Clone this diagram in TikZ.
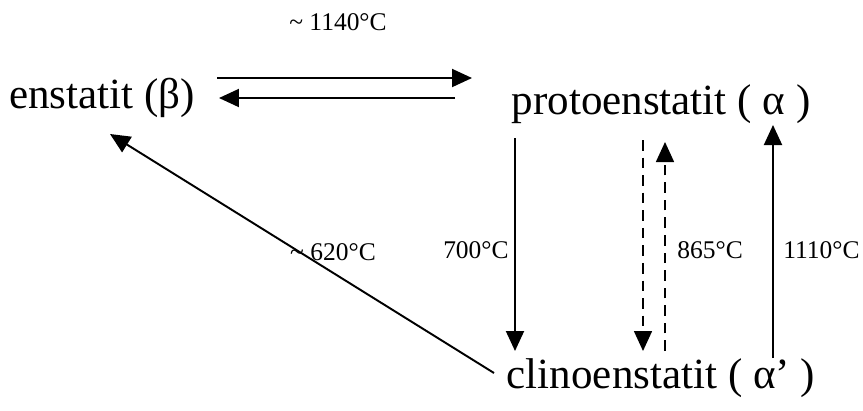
\documentclass[tikz,border=0pt]{standalone}
\usepackage{fontspec}
\setmainfont{Liberation Serif}
\usetikzlibrary{arrows.meta}
\tikzset{
  phase/.style={inner sep=0pt, font=\fontsize{24.5}{28}\selectfont},
  temp/.style={inner sep=0pt, font=\fontsize{14.5}{17}\selectfont},
  conv/.style={-{Triangle[length=0.4cm, width=0.36cm]}, line width=1.1pt},
  slow/.style={conv, dashed, dash pattern=on 6pt off 4pt, line width=0.9pt},
}

\begin{document}
\begin{tikzpicture}[x=0.02cm, y=-0.02cm]
\useasboundingbox (0,0) rectangle (863,410);

% the three phases
\node[phase] (enst)   at (102,98)  {enstatit (β)};
\node[phase] (proto)  at (661,104) {protoenstatit ( α )};
\node[phase] (clino)  at (661,378) {clinoenstatit ( α’ )};

% ends of the arrows
\coordinate (hiA) at (217,78);   \coordinate (hiB) at (472,78);
\coordinate (loA) at (455,98);   \coordinate (loB) at (219,98);
\coordinate (dgA) at (494,373);  \coordinate (dgB) at (110,134);
\coordinate (dnA) at (515,138);  \coordinate (dnB) at (515,351);
\coordinate (dsA) at (643,140);  \coordinate (dsB) at (643,351);
\coordinate (usA) at (665,351);  \coordinate (usB) at (665,142);
\coordinate (upA) at (773,358);  \coordinate (upB) at (773,125);

\draw[conv] (hiA) -- (hiB);
\draw[conv] (loA) -- (loB);
\draw[conv] (dgA) -- (dgB);
\draw[conv] (dnA) -- (dnB);
\draw[slow] (dsA) -- (dsB);
\draw[slow] (usA) -- (usB);
\draw[conv] (upA) -- (upB);

% temperatures
\node[temp] (t1140) at (338,22)  {\textasciitilde{} 1140°C};
\node[temp] (t620)  at (333,252) {\textasciitilde{} 620°C};
\node[temp, anchor=east] (t700)  at (509,250) {700°C};
\node[temp, anchor=west] (t865)  at (677,250) {865°C};
\node[temp, anchor=west] (t1110) at (783,250) {1110°C};
\end{tikzpicture}
\end{document}
